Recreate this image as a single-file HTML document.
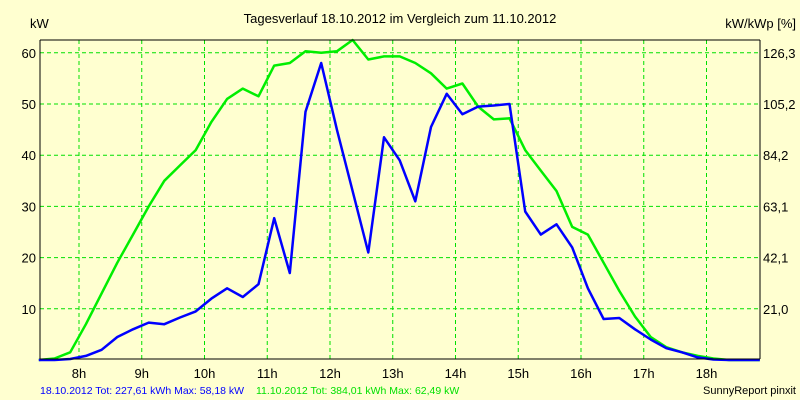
<!DOCTYPE html>
<html><head><meta charset="utf-8"><style>
body{margin:0;background:#ffffd0;}
svg{display:block;font-family:"Liberation Sans",sans-serif;font-size:13px;}
</style></head><body>
<svg id="chart" width="800" height="400" xmlns="http://www.w3.org/2000/svg">
<rect width="800" height="400" fill="#ffffd0"/>
<text x="400" y="23" text-anchor="middle">Tagesverlauf 18.10.2012 im Vergleich zum 11.10.2012</text>
<text x="30" y="28">kW</text>
<text x="796" y="28" text-anchor="end">kW/kWp [%]</text>
<g id="grid"></g>
<g id="ticks"></g>
<g id="series"></g>
<line x1="40" y1="359" x2="760" y2="359" stroke="#000"/>
<line x1="40" y1="40" x2="40" y2="359" stroke="#000"/>
<line x1="760" y1="40" x2="760" y2="359" stroke="#000"/>
<line x1="40" y1="40" x2="760" y2="40" stroke="#000"/>
<text x="40" y="394" font-size="10.5" fill="#0000ff">18.10.2012 Tot: 227,61 kWh Max: 58,18 kW</text>
<text x="256" y="394" font-size="10.5" fill="#00e000">11.10.2012 Tot: 384,01 kWh Max: 62,49 kW</text>
<text x="796" y="394" font-size="11" text-anchor="end">SunnyReport pinxit</text>
</svg>
<script>
const times=[7.36,7.61,7.86,8.11,8.36,8.61,8.86,9.11,9.36,9.61,9.86,10.11,10.36,10.61,10.86,11.11,11.36,11.61,11.86,12.11,12.36,12.61,12.86,13.11,13.36,13.61,13.86,14.11,14.36,14.61,14.86,15.11,15.36,15.61,15.86,16.11,16.36,16.61,16.86,17.11,17.36,17.61,17.86,18.11,18.36,18.61,18.85];
const blueValues=[0,0,0.2,0.8,2,4.5,6,7.3,7,8.3,9.5,12,14,12.3,14.8,27.7,17,48.5,58,45,33,21,43.5,39,31,45.5,52,48,49.5,49.7,50,29,24.5,26.5,22,14,8,8.2,6,4,2.3,1.5,0.5,0.1,0,0,0];
const greenValues=[0,0.3,1.5,7,13,19,24.5,30,35,38,41,46.5,51,53,51.5,57.5,58,60.3,60,60.3,62.5,58.7,59.3,59.3,58,56,53,54,49.5,47,47.2,41,37,33,26,24.5,19,13.5,8.5,4.5,2.5,1.5,0.8,0.3,0,0,0];
const hourTicks=[8,9,10,11,12,13,14,15,16,17,18];
const yTicks=[10,20,30,40,50,60];
const y2Labels=["21,0","42,1","63,1","84,2","105,2","126,3"];
const NS="http://www.w3.org/2000/svg";
const xS=h=>79+(h-8)*62.75;
const yS=v=>360-5.12*v;
function mk(tag,attrs,parent){const e=document.createElementNS(NS,tag);for(const k in attrs)e.setAttribute(k,attrs[k]);parent.appendChild(e);return e;}
const grid=document.getElementById('grid'),ticks=document.getElementById('ticks'),series=document.getElementById('series');
hourTicks.forEach(h=>{
 const l=mk('line',{x1:xS(h),x2:xS(h),y1:40,y2:359,stroke:'#00e000','stroke-dasharray':'4,3'},grid);
 
 
 const t=mk('text',{x:xS(h),y:378,'text-anchor':'middle'},ticks);
 t.textContent=h+'h';
 
 
});
yTicks.forEach((v,i)=>{
 const l=mk('line',{x1:40,x2:760,y1:yS(v),y2:yS(v),stroke:'#00e000','stroke-dasharray':'4,3'},grid);
 
 
 const t=mk('text',{x:36,y:yS(v)+5,'text-anchor':'end'},ticks);
 t.textContent=v;
 
 
 const t2=mk('text',{x:763,y:yS(v)+5},ticks);
 t2.textContent=y2Labels[i];
 
 
});
function line(vals,color,name){
 const p=mk('polyline',{points:vals.map((v,i)=>xS(times[i]).toFixed(1)+','+yS(v).toFixed(1)).join(' '),fill:'none',stroke:color,'stroke-width':2.5,'stroke-linejoin':'round'},series);
 
 
}
line(greenValues,'#00ee00','series-11-10-2012');
line(blueValues,'#0000ff','series-18-10-2012');
</script>
</body></html>
